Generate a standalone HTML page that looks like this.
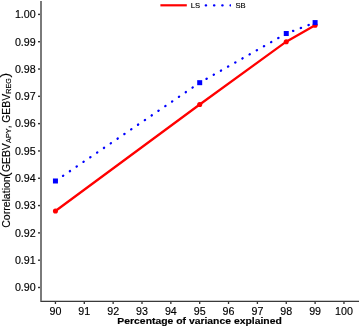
<!DOCTYPE html><html><head><meta charset="utf-8"><style>html,body{margin:0;padding:0;background:#fff;width:359px;height:327px;overflow:hidden}svg{display:block}text{font-family:"Liberation Sans",sans-serif;fill:#000;stroke:#000;stroke-width:0.15px}</style></head><body>
<svg width="359" height="327" viewBox="0 0 359 327">
<rect width="359" height="327" fill="#fff"/>
<rect x="40" y="1" width="2" height="301" fill="#7a7a7a"/>
<rect x="42" y="300" width="317" height="1" fill="#c8c8c8"/>
<rect x="41" y="301" width="318" height="1" fill="#3a3a3a"/>
<rect x="38" y="13.70" width="2" height="1.4" fill="#333"/>
<text x="35.7" y="18.20" font-size="10.70" text-anchor="end" fill="#222">1.00</text>
<rect x="38" y="41.01" width="2" height="1.4" fill="#333"/>
<text x="35.7" y="45.51" font-size="10.70" text-anchor="end" fill="#222">0.99</text>
<rect x="38" y="68.32" width="2" height="1.4" fill="#333"/>
<text x="35.7" y="72.82" font-size="10.70" text-anchor="end" fill="#222">0.98</text>
<rect x="38" y="95.63" width="2" height="1.4" fill="#333"/>
<text x="35.7" y="100.13" font-size="10.70" text-anchor="end" fill="#222">0.97</text>
<rect x="38" y="122.94" width="2" height="1.4" fill="#333"/>
<text x="35.7" y="127.44" font-size="10.70" text-anchor="end" fill="#222">0.96</text>
<rect x="38" y="150.25" width="2" height="1.4" fill="#333"/>
<text x="35.7" y="154.75" font-size="10.70" text-anchor="end" fill="#222">0.95</text>
<rect x="38" y="177.56" width="2" height="1.4" fill="#333"/>
<text x="35.7" y="182.06" font-size="10.70" text-anchor="end" fill="#222">0.94</text>
<rect x="38" y="204.87" width="2" height="1.4" fill="#333"/>
<text x="35.7" y="209.37" font-size="10.70" text-anchor="end" fill="#222">0.93</text>
<rect x="38" y="232.18" width="2" height="1.4" fill="#333"/>
<text x="35.7" y="236.68" font-size="10.70" text-anchor="end" fill="#222">0.92</text>
<rect x="38" y="259.49" width="2" height="1.4" fill="#333"/>
<text x="35.7" y="263.99" font-size="10.70" text-anchor="end" fill="#222">0.91</text>
<rect x="38" y="286.80" width="2" height="1.4" fill="#333"/>
<text x="35.7" y="291.30" font-size="10.70" text-anchor="end" fill="#222">0.90</text>
<rect x="54.79" y="302" width="1.3" height="2" fill="#333"/>
<text x="55.44" y="314.6" font-size="10.70" text-anchor="middle" fill="#222">90</text>
<rect x="83.64" y="302" width="1.3" height="2" fill="#333"/>
<text x="84.29" y="314.6" font-size="10.70" text-anchor="middle" fill="#222">91</text>
<rect x="112.49" y="302" width="1.3" height="2" fill="#333"/>
<text x="113.14" y="314.6" font-size="10.70" text-anchor="middle" fill="#222">92</text>
<rect x="141.35" y="302" width="1.3" height="2" fill="#333"/>
<text x="142.00" y="314.6" font-size="10.70" text-anchor="middle" fill="#222">93</text>
<rect x="170.20" y="302" width="1.3" height="2" fill="#333"/>
<text x="170.85" y="314.6" font-size="10.70" text-anchor="middle" fill="#222">94</text>
<rect x="199.05" y="302" width="1.3" height="2" fill="#333"/>
<text x="199.70" y="314.6" font-size="10.70" text-anchor="middle" fill="#222">95</text>
<rect x="227.90" y="302" width="1.3" height="2" fill="#333"/>
<text x="228.55" y="314.6" font-size="10.70" text-anchor="middle" fill="#222">96</text>
<rect x="256.75" y="302" width="1.3" height="2" fill="#333"/>
<text x="257.40" y="314.6" font-size="10.70" text-anchor="middle" fill="#222">97</text>
<rect x="285.61" y="302" width="1.3" height="2" fill="#333"/>
<text x="286.26" y="314.6" font-size="10.70" text-anchor="middle" fill="#222">98</text>
<rect x="314.46" y="302" width="1.3" height="2" fill="#333"/>
<text x="315.11" y="314.6" font-size="10.70" text-anchor="middle" fill="#222">99</text>
<rect x="343.31" y="302" width="1.3" height="2" fill="#333"/>
<text x="343.96" y="314.6" font-size="10.70" text-anchor="middle" fill="#222">100</text>
<text x="117.36" y="323.8" font-size="9.8" font-weight="bold" textLength="164.4" lengthAdjust="spacingAndGlyphs" fill="#000">Percentage of variance explained</text>
<g transform="translate(9.7,0) rotate(-90)" fill="#111">
<text x="-227.72" y="0" font-size="10.5">Correlation</text>
<text x="-177.10" y="-0.45" font-size="13.5">(</text>
<text x="-172.12" y="0" font-size="10.4">GEBV</text>
<text x="-142.90" y="1.5" font-size="7.2">APY</text>
<text x="-128.30" y="0" font-size="10.4">,</text>
<text x="-122.82" y="0" font-size="10.4">GEBV</text>
<text x="-93.78" y="1.5" font-size="7.2">REG</text>
<text x="-77.60" y="-0.45" font-size="13.5">)</text>
</g>
<polyline points="55.44,211.03 199.70,104.52 286.26,41.71 315.11,25.32" fill="none" stroke="#ff0000" stroke-width="2.25"/>
<circle cx="55.44" cy="211.03" r="2.55" fill="#ff0000"/>
<circle cx="199.70" cy="104.52" r="2.55" fill="#ff0000"/>
<circle cx="286.26" cy="41.71" r="2.55" fill="#ff0000"/>
<circle cx="315.11" cy="25.32" r="2.55" fill="#ff0000"/>
<polyline points="55.44,180.99 199.70,82.68 286.26,33.52 315.11,22.59" fill="none" stroke="#0000ff" stroke-width="2.3" stroke-linecap="round" stroke-dasharray="0.3 7.95" stroke-dashoffset="7.37"/>
<rect x="52.94" y="178.49" width="5" height="5" fill="#0000ff"/>
<rect x="197.20" y="80.18" width="5" height="5" fill="#0000ff"/>
<rect x="283.76" y="31.02" width="5" height="5" fill="#0000ff"/>
<rect x="312.61" y="20.09" width="5" height="5" fill="#0000ff"/>
<line x1="160.4" y1="5.3" x2="186.8" y2="5.3" stroke="#ff0000" stroke-width="2.2"/>
<text x="190.79" y="7.8" font-size="7.60" fill="#222">LS</text>
<clipPath id="lk"><rect x="203" y="0" width="27.9" height="12"/></clipPath>
<line x1="204.9" y1="5.4" x2="232" y2="5.4" clip-path="url(#lk)" stroke="#0000ff" stroke-width="2.3" stroke-linecap="round" stroke-dasharray="0.3 7.95" stroke-dashoffset="7.37"/>
<text x="235.46" y="7.8" font-size="7.60" fill="#222">SB</text>
</svg></body></html>
